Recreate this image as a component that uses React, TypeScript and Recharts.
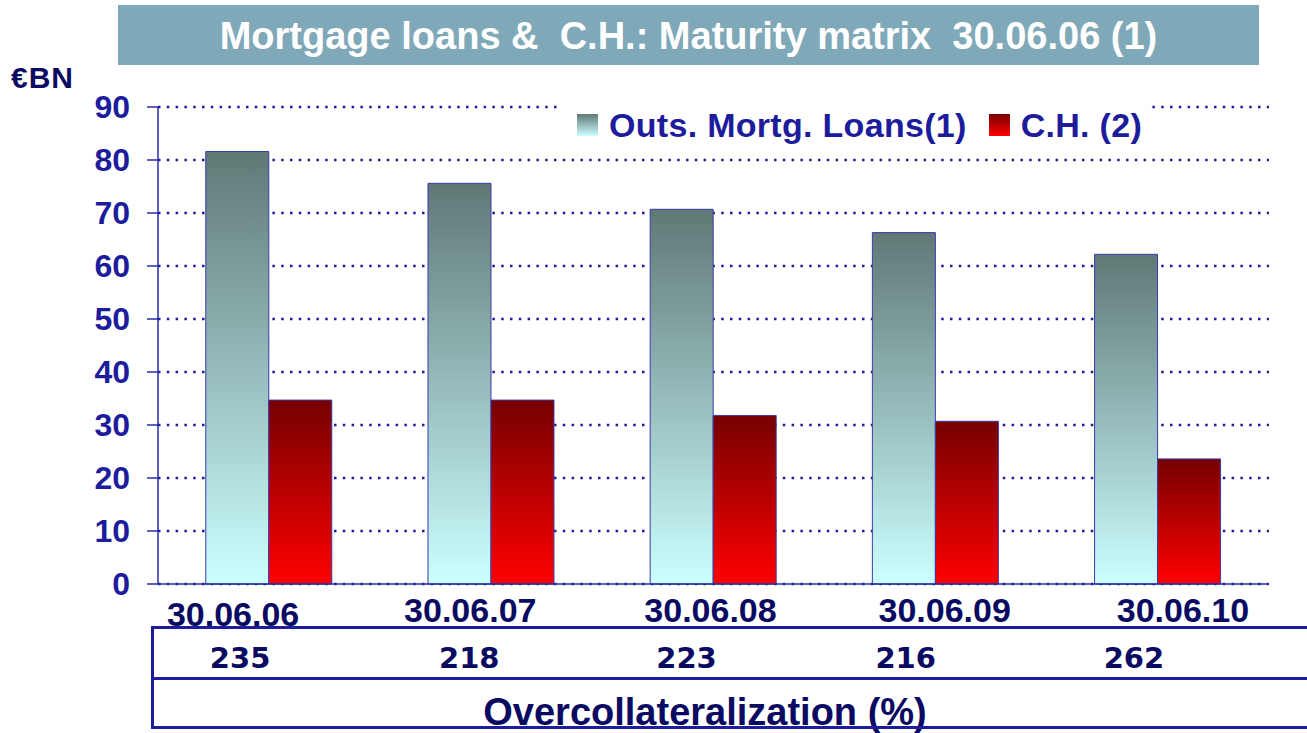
import React from 'react';
import { BarChart, Bar, XAxis, YAxis, CartesianGrid, Legend } from 'recharts';

const categories = ['30.06.06', '30.06.07', '30.06.08', '30.06.09', '30.06.10'];
const mortgageLoans = [81.6, 75.6, 70.7, 66.3, 62.2];
const coveredBonds = [34.7, 34.7, 31.8, 30.7, 23.6];
const overcollateralization = ['235', '218', '223', '216', '262'];
const yTicks = [0, 10, 20, 30, 40, 50, 60, 70, 80, 90];
const seriesOrder = ['loans', 'ch'];
const loansName = 'Outs. Mortg. Loans(1)';
const chName = 'C.H. (2)';

const data = categories.map((date, i) => ({
  date,
  loans: mortgageLoans[i],
  ch: coveredBonds[i],
}));

const ARIAL = '"Liberation Sans", Arial, sans-serif';
const VERDANA = '"DejaVu Sans", Verdana, sans-serif';
const BLUE = '#1c1c9c';
const NAVY = '#0a0a62';

const loansCss = 'linear-gradient(to bottom, #5f7876, #ccffff)';
const chCss = 'linear-gradient(to bottom, #760000, #ff0000)';

// label offsets (styling) relative to category centre
const dateDx = [-36, -21, -3, 9, 25];
const dateDy = [42, 38, 38, 38, 38];
const ocDx = [-29, -22, -27, -30, -24];

function DateTick(props: any) {
  const { x, y, payload } = props;
  const i = props.index ?? payload.index ?? 0;
  return (
    <g>
      <text
        x={x + dateDx[i]}
        y={y + dateDy[i]}
        textAnchor="middle"
        fontFamily={ARIAL}
        fontWeight={700}
        fontSize={34}
        fill={NAVY}
      >
        {payload.value}
      </text>
      <text
        x={x + ocDx[i]}
        y={y + 84}
        textAnchor="middle"
        fontFamily={VERDANA}
        fontWeight={700}
        fontSize={29}
        fill={NAVY}
      >
        {overcollateralization[i]}
      </text>
    </g>
  );
}

function LegendContent(props: any) {
  const payload = [...(props.payload || [])].sort(
    (a: any, b: any) => seriesOrder.indexOf(a.dataKey) - seriesOrder.indexOf(b.dataKey)
  );
  return (
    <div
      style={{
        width: '100%',
        height: '100%',
        background: '#ffffff',
        display: 'flex',
        alignItems: 'center',
        paddingLeft: 17,
        boxSizing: 'border-box',
      }}
    >
      {payload.map((entry: any, idx: number) => (
        <div key={idx} style={{ display: 'flex', alignItems: 'center', marginRight: 22 }}>
          <div
            style={{
              width: 21,
              height: 22,
              background: entry.dataKey === 'loans' ? loansCss : chCss,
              marginRight: 11,
            }}
          />
          <span
            style={{
              fontFamily: ARIAL,
              fontWeight: 700,
              fontSize: 34,
              letterSpacing: 0.3,
              color: BLUE,
              lineHeight: '40px',
              whiteSpace: 'nowrap',
            }}
          >
            {entry.value}
          </span>
        </div>
      ))}
    </div>
  );
}

export default function App() {
  return (
    <div
      style={{
        position: 'absolute',
        left: 0,
        top: 0,
        width: 1307,
        height: 733,
        background: '#ffffff',
        overflow: 'hidden',
      }}
    >
      <svg width={0} height={0} style={{ position: 'absolute' }}>
        <defs>
          <linearGradient id="gradLoans" x1="0" y1="0" x2="0" y2="1">
            <stop offset="0%" stopColor="#5f7876" />
            <stop offset="100%" stopColor="#ccffff" />
          </linearGradient>
          <linearGradient id="gradCH" x1="0" y1="0" x2="0" y2="1">
            <stop offset="0%" stopColor="#760000" />
            <stop offset="100%" stopColor="#ff0000" />
          </linearGradient>
        </defs>
      </svg>

      {/* Title */}
      <div
        style={{
          position: 'absolute',
          left: 118,
          top: 5,
          width: 1141,
          height: 60,
          background: '#7fa8b9',
          color: '#ffffff',
          fontFamily: ARIAL,
          fontWeight: 700,
          fontSize: 38,
          lineHeight: '62px',
          textAlign: 'center',
          whiteSpace: 'pre',
        }}
      >
        {'Mortgage loans &  C.H.: Maturity matrix  30.06.06 (1)'}
      </div>

      {/* Unit */}
      <div
        style={{
          position: 'absolute',
          left: 11,
          top: 60,
          fontFamily: ARIAL,
          fontWeight: 700,
          fontSize: 30,
          letterSpacing: 1,
          color: NAVY,
          lineHeight: '36px',
        }}
      >
        €BN
      </div>

      <div style={{ position: 'absolute', left: 0, top: 0 }}>
        <BarChart
          width={1307}
          height={733}
          data={data}
          margin={{ top: 107, right: 38, left: 0, bottom: 0 }}
          barCategoryGap="21.5%"
          barGap={0}
        >
          <CartesianGrid
            vertical={false}
            stroke={BLUE}
            strokeWidth={2.5}
            strokeDasharray="2.5 6.3"
          />
          <XAxis
            dataKey="date"
            height={149}
            tickLine={false}
            tickSize={0}
            tickMargin={0}
            axisLine={{ stroke: '#2a2aa6', strokeWidth: 1.5 }}
            tick={<DateTick />}
            interval={0}
          />
          <YAxis
            width={158}
            domain={[0, 90]}
            ticks={yTicks}
            interval={0}
            tickSize={11}
            tickMargin={17}
            axisLine={{ stroke: '#2a2aa6', strokeWidth: 1.5 }}
            tickLine={{ stroke: '#2a2aa6', strokeWidth: 1.5 }}
            tick={{ fill: BLUE, fontSize: 32, fontWeight: 700, fontFamily: ARIAL }}
          />
          <Legend
            layout="horizontal"
            verticalAlign="middle"
            align="center"
            itemSorter={null as any}
            content={<LegendContent />}
            wrapperStyle={{ position: 'absolute', left: 560, top: 103, width: 586, height: 44 }}
          />
          <Bar
            dataKey="loans"
            name={loansName}
            fill="url(#gradLoans)"
            stroke="#3a3aaa"
            strokeWidth={1}
            isAnimationActive={false}
          />
          <Bar
            dataKey="ch"
            name={chName}
            fill="url(#gradCH)"
            stroke="#3a3aaa"
            strokeWidth={1}
            isAnimationActive={false}
          />
        </BarChart>
      </div>

      {/* Overcollateralization table frame */}
      <div style={{ position: 'absolute', left: 151, top: 626, width: 1160, height: 3, background: BLUE }} />
      <div style={{ position: 'absolute', left: 151, top: 677, width: 1160, height: 3, background: BLUE }} />
      <div style={{ position: 'absolute', left: 151, top: 626, width: 3, height: 103, background: BLUE }} />
      <div
        style={{
          position: 'absolute',
          left: 405,
          top: 690,
          width: 600,
          textAlign: 'center',
          fontFamily: ARIAL,
          fontWeight: 700,
          fontSize: 38,
          lineHeight: '44px',
          color: NAVY,
          whiteSpace: 'nowrap',
        }}
      >
        Overcollateralization (%)
      </div>
      <div style={{ position: 'absolute', left: 151, top: 726, width: 1160, height: 3, background: BLUE }} />
    </div>
  );
}
